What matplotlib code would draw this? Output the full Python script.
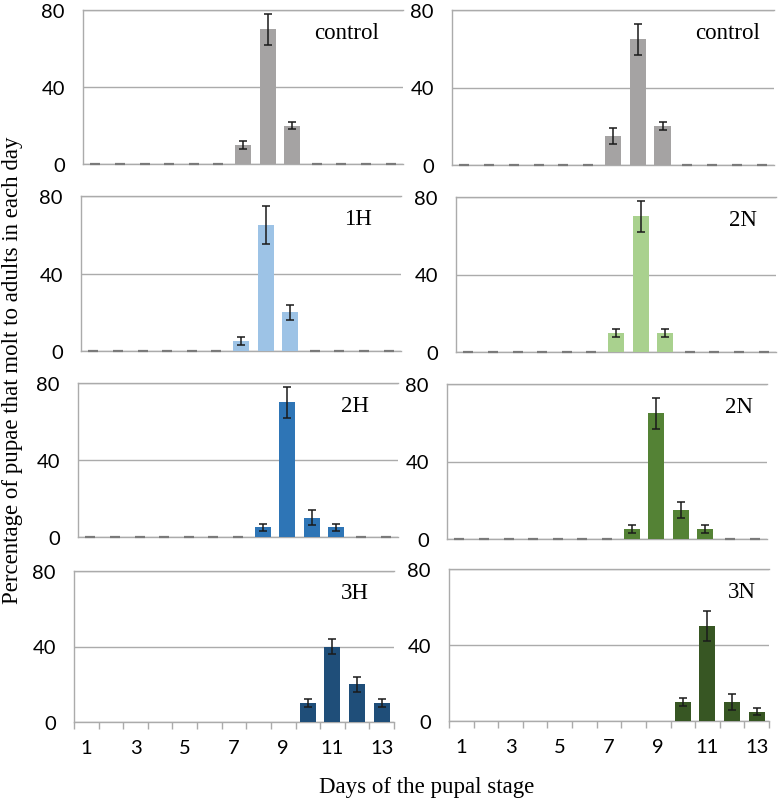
"""
Daily adult emergence from pupae, eight treatment panels (4 rows x 2 columns).
"""

import matplotlib
matplotlib.use("Agg")
import matplotlib.pyplot as plt
import matplotlib.ticker as ticker

DAYS = list(range(1, 14))
TICK_LABELS = ["1", "3", "5", "7", "9", "11", "13"]

PANEL_NAMES = ["control", "control", "1H", "2N", "2H", "2N", "3H", "3N"]

control_left = [0, 0, 0, 0, 0, 0, 10, 70, 20, 0, 0, 0, 0]
control_left_err = [0, 0, 0, 0, 0, 0, 2, 8, 2, 0, 0, 0, 0]
control_right = [0, 0, 0, 0, 0, 0, 15, 65, 20, 0, 0, 0, 0]
control_right_err = [0, 0, 0, 0, 0, 0, 4, 8, 2, 0, 0, 0, 0]
h1 = [0, 0, 0, 0, 0, 0, 5, 65, 20, 0, 0, 0, 0]
h1_err = [0, 0, 0, 0, 0, 0, 2, 10, 4, 0, 0, 0, 0]
n2_light = [0, 0, 0, 0, 0, 0, 10, 70, 10, 0, 0, 0, 0]
n2_light_err = [0, 0, 0, 0, 0, 0, 2, 8, 2, 0, 0, 0, 0]
h2 = [0, 0, 0, 0, 0, 0, 0, 5, 70, 10, 5, 0, 0]
h2_err = [0, 0, 0, 0, 0, 0, 0, 2, 8, 4, 2, 0, 0]
n2_mid = [0, 0, 0, 0, 0, 0, 0, 5, 65, 15, 5, 0, 0]
n2_mid_err = [0, 0, 0, 0, 0, 0, 0, 2, 8, 4, 2, 0, 0]
h3 = [0, 0, 0, 0, 0, 0, 0, 0, 0, 10, 40, 20, 10]
h3_err = [0, 0, 0, 0, 0, 0, 0, 0, 0, 2, 4, 4, 2]
n3 = [0, 0, 0, 0, 0, 0, 0, 0, 0, 10, 50, 10, 5]
n3_err = [0, 0, 0, 0, 0, 0, 0, 0, 0, 2, 8, 4, 2]

VALUES = [control_left, control_right, h1, n2_light, h2, n2_mid, h3, n3]
ERRORS = [control_left_err, control_right_err, h1_err, n2_light_err,
          h2_err, n2_mid_err, h3_err, n3_err]
COLORS = ["#A5A3A3", "#A5A3A3", "#9DC3E6", "#A9D18E",
          "#2E75B6", "#548235", "#1F4E79", "#375623"]

# panel boxes in pixels: left, y of 80 line, y of 0 line, width
W, H = 782, 803
BOXES = [(83, 11, 165, 320), (452, 11, 166, 322),
         (81, 197, 352, 320), (456, 198, 353, 320),
         (78, 384, 538, 320), (447, 385, 540, 320),
         (74, 572, 723, 320), (449, 570, 722, 320)]
LABEL_X = [0.925, 0.955, 0.91, 0.94, 0.91, 0.955, 0.92, 0.96]

GRID = "#ABABAB"
SERIF = "Liberation Serif"
SANS = "Lato"

fig = plt.figure(figsize=(W / 100, H / 100), dpi=100)

for i, (name, vals, errs, color) in enumerate(zip(PANEL_NAMES, VALUES, ERRORS, COLORS)):
    left, top, bottom, width = BOXES[i]
    ax = fig.add_axes([left / W, 1 - bottom / H, width / W, (bottom - top) / H])
    bottom_row = i >= 6

    xs = [d for d, v in zip(DAYS, vals) if v > 0]
    ys = [v for v in vals if v > 0]
    es = [e for v, e in zip(vals, errs) if v > 0]
    ax.bar(xs, ys, width=0.65, color=color, zorder=3)
    ax.errorbar(xs, ys, yerr=es, fmt="none", ecolor="#1a1a1a", elinewidth=1.1,
                capsize=2.6, capthick=1.1, zorder=4)

    if not bottom_row:
        zx = [d for d, v in zip(DAYS, vals) if v == 0]
        ax.plot(zx, [0] * len(zx), linestyle="none", marker="_", markersize=7.5,
                markeredgewidth=1.6, color="#7A7A7A", zorder=4, clip_on=False)

    ax.set_xlim(0.5, 13.5)
    ax.set_ylim(0, 80)
    ax.set_yticks([0, 40, 80])
    ax.yaxis.grid(True, color=GRID, linewidth=1.0, zorder=0)
    ax.set_axisbelow(True)
    ax.tick_params(axis="y", length=0, pad=13, labelsize=14.5)
    for lab in ax.get_yticklabels():
        lab.set_fontfamily(SANS)

    for side in ("top", "right"):
        ax.spines[side].set_visible(False)
    for side in ("left", "bottom"):
        ax.spines[side].set_color(GRID)
        ax.spines[side].set_linewidth(1.0)
    ax.axhline(80, color=GRID, linewidth=1.0, zorder=0, clip_on=False)

    if bottom_row:
        ax.set_xticks(list(range(1, 14, 2)))
        ax.set_xticklabels(TICK_LABELS, fontfamily=SANS, fontsize=14.5)
        ax.xaxis.set_minor_locator(ticker.FixedLocator([d + 0.5 for d in range(0, 14)]))
        ax.tick_params(axis="x", which="major", length=0, pad=12)
        ax.tick_params(axis="x", which="minor", length=5, width=1.0,
                       color=GRID, direction="out")
    else:
        ax.set_xticks([])

    ax.text(LABEL_X[i], 0.855, name, transform=ax.transAxes, ha="right",
            va="center", fontfamily=SERIF, fontsize=16.5)

fig.text(0.016, 0.539, "Percentage of pupae that molt to adults in each day",
         rotation=90, ha="center", va="center", fontfamily=SERIF, fontsize=16.5)
fig.text(0.545, 0.019, "Days of the pupal stage", ha="center", va="center",
         fontfamily=SERIF, fontsize=16.5)

fig.savefig("out.png", dpi=100)
plt.close(fig)
